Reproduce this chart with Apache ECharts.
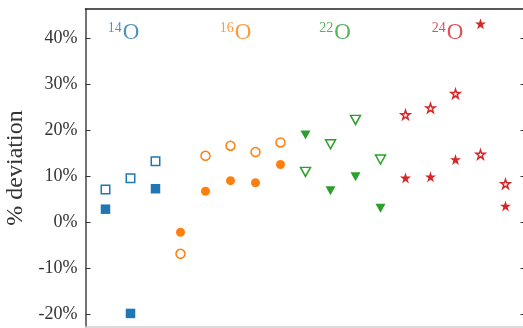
<!DOCTYPE html>
<html>
<head>
<meta charset="utf-8">
<script src="https://cdn.jsdelivr.net/npm/echarts@6/dist/echarts.min.js"></script>
<style>
  html, body { margin: 0; padding: 0; background: #fff; }
  #chart { width: 523px; height: 328px; }
</style>
</head>
<body>
<div id="chart"></div>
<script>
// Deviation (%) per data point; each isotope group occupies consecutive x slots.
const blueX = [0, 1, 2];
const blueOpen = [7.1, 9.5, 13.2];
const blueFilled = [2.8, -19.85, 7.25];

const orangeX = [3, 4, 5, 6, 7];
const orangeOpen = [-6.9, 14.4, 16.6, 15.2, 17.3];
const orangeFilled = [-2.2, 6.7, 9.0, 8.55, 12.5];

const greenX = [8, 9, 10, 11];
const greenOpen = [10.9, 16.9, 22.2, 13.6];
const greenFilled = [18.9, 6.8, 9.85, 3.0];

const redX = [12, 13, 14, 15, 16];
const redOpen = [23.3, 24.8, 27.9, 14.7, 8.3];
const redFilled = [9.6, 9.85, 13.6, 43.1, 3.5];

// Group titles and where they sit (x slot, % value)
const isoMass = ['14', '16', '22', '24'];
const isoLabelX = [0.72, 5.2, 9.18, 13.68];
const isoLabelY = [41.2, 41.2, 41.2, 41.2];

const yTicks = [-20, -10, 0, 10, 20, 30, 40];

const C = { blue: '#1f77b4', orange: '#ff7f0e', green: '#2ca02c', red: '#d62728' };
const STAR = 'path://M50,0 L61.8,35.3 L98.9,35.3 L68.9,57.1 L80.3,92.4 L50,70.6 L19.7,92.4 L31.1,57.1 L1.1,35.3 L38.2,35.3 Z';

function pts(xs, ys) { return xs.map((x, i) => [x, ys[i]]); }

function openSeries(xs, ys, color, symbol, size, extra) {
  return Object.assign({
    type: 'scatter', data: pts(xs, ys), symbol: symbol, symbolSize: size,
    itemStyle: { color: '#fff', borderColor: color, borderWidth: 1.5, opacity: 1 },
    emphasis: { disabled: true }, z: 3
  }, extra || {});
}
function filledSeries(xs, ys, color, symbol, size, extra) {
  return Object.assign({
    type: 'scatter', data: pts(xs, ys), symbol: symbol, symbolSize: size,
    itemStyle: { color: color, opacity: 1 },
    emphasis: { disabled: true }, z: 3
  }, extra || {});
}

const colors = [C.blue, C.orange, C.green, C.red];
const labelSeries = {
  type: 'scatter', symbolSize: 0, silent: true, z: 5,
  data: isoMass.map((m, i) => ({
    value: [isoLabelX[i], isoLabelY[i]],
    label: {
      show: true, position: 'inside',
      formatter: '{s|' + m + '}{o|O}',
      rich: {
        s: { fontFamily: 'Liberation Serif', fontSize: 14, color: colors[i], verticalAlign: 'top', padding: [0, 1, 6, 0] },
        o: { fontFamily: 'Liberation Serif', fontSize: 23, color: colors[i] }
      }
    }
  }))
};

const chart = echarts.init(document.getElementById('chart'), null, { renderer: 'canvas' });
chart.setOption({
  animation: false,
  backgroundColor: '#fff',
  grid: { left: 85.5, right: -2.5, top: 9, bottom: 1, containLabel: false, outerBoundsMode: 'none' },
  xAxis: [
    { type: 'value', min: -0.8, max: 16.8, position: 'bottom',
      axisLine: { show: true, onZero: false, lineStyle: { color: '#d0d0d0', width: 1.5 } },
      axisTick: { show: false }, axisLabel: { show: false }, splitLine: { show: false } },
    { type: 'value', min: -0.8, max: 16.8, position: 'top',
      axisLine: { show: true, onZero: false, lineStyle: { color: '#222', width: 1.5 } },
      axisTick: { show: false }, axisLabel: { show: false }, splitLine: { show: false } }
  ],
  yAxis: [
    { type: 'value', min: -22.8, max: 46.3, position: 'left',
      name: '% deviation', nameLocation: 'middle', nameGap: 52, nameRotate: 90,
      nameTextStyle: { fontFamily: 'Liberation Serif', fontSize: 24, color: '#333' },
      axisLine: { show: true, onZero: false, lineStyle: { color: '#444', width: 1.5 } },
      axisTick: { show: true, inside: true, length: 5, customValues: yTicks, lineStyle: { color: '#333', width: 1 } },
      axisLabel: { show: true, customValues: yTicks, margin: 8, formatter: v => v + '%',
        fontFamily: 'Liberation Serif', fontSize: 18, color: '#333' },
      splitLine: { show: false } },
    { type: 'value', min: -22.8, max: 46.3, position: 'right',
      axisLine: { show: true, onZero: false, lineStyle: { color: '#222', width: 1.5 } },
      axisTick: { show: true, inside: true, length: 5, customValues: yTicks, lineStyle: { color: '#333', width: 1 } },
      axisLabel: { show: false }, splitLine: { show: false } }
  ],
  series: [
    openSeries(blueX, blueOpen, C.blue, 'rect', 8.5),
    filledSeries(blueX, blueFilled, C.blue, 'rect', 9.5),
    openSeries(orangeX, orangeOpen, C.orange, 'circle', 9),
    filledSeries(orangeX, orangeFilled, C.orange, 'circle', 9),
    openSeries(greenX, greenOpen, C.green, 'triangle', [10, 9], { symbolRotate: 180 }),
    filledSeries(greenX, greenFilled, C.green, 'triangle', [10, 9], { symbolRotate: 180 }),
    openSeries(redX, redOpen, C.red, STAR, 9),
    filledSeries(redX, redFilled, C.red, STAR, 11),
    labelSeries
  ]
});
</script>
</body>
</html>
